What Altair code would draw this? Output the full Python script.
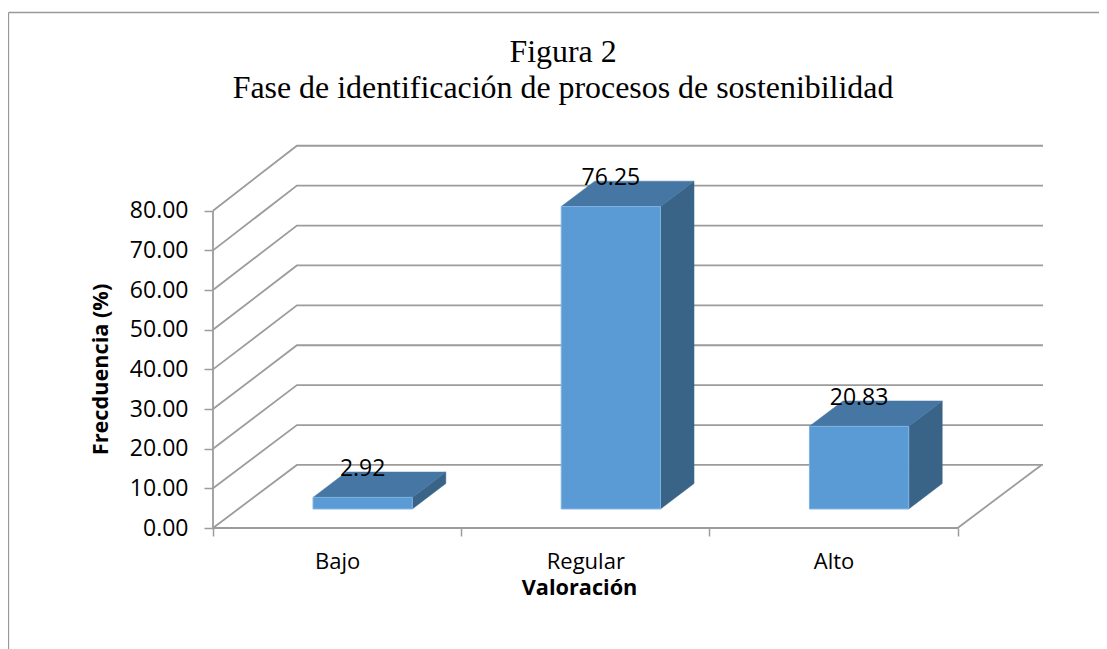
import altair as alt
import pandas as pd

categories = ["Bajo", "Regular", "Alto"]
values = [2.92, 76.25, 20.83]
y_ticks = [0, 10, 20, 30, 40, 50, 60, 70, 80]
title_lines = ["Figura 2", "Fase de identificación de procesos de sostenibilidad"]

# oblique-projection constants, in data units
WALL_DX, WALL_DY = 0.338, 15.9      # depth of the floor / walls
BACK_SCALE = 1.006                  # back wall is drawn very slightly taller than the front
BAR_DX, BAR_DY = 0.135, 6.4         # depth of each bar
BAR_START, BAR_W = 0.403, 0.40      # bar offset within its category
BASE_Y = 4.8                        # height of the bar base above the axis floor
X_MAX, Y_MAX = 3.344, 96.57

GRID = "#9c9c9c"
FRONT, TOP, SIDE = "#5b9bd5", "#4676a3", "#3a6487"
SANS = "Open Sans"

xs = alt.Scale(domain=[0, X_MAX], nice=False, zero=False)
ys = alt.Scale(domain=[0, Y_MAX], nice=False, zero=False)
x_axis = alt.Axis(
    orient="bottom", values=[0, 1, 2, 3], labels=False, domain=False, grid=False,
    ticks=True, tickSize=8, tickColor=GRID, tickWidth=1.5, title=None,
)
y_axis = alt.Axis(
    orient="left", values=y_ticks, format=".2f", domain=False, grid=False, tickSize=9,
    tickColor=GRID, tickWidth=1.5, labelFont=SANS, labelFontSize=23,
    labelColor="#000000", labelPadding=16, title="Frecduencia (%)",
    titleFont=SANS, titleFontSize=21.7, titleFontWeight="bold", titleColor="#000000",
    titleX=-101, titleY=224,
)
X = alt.X("x:Q", scale=xs, axis=x_axis)
Y = alt.Y("y:Q", scale=ys, stack=None, axis=y_axis)

# grid lines on walls
grid_rows = []
for v in y_ticks:
    back = v * BACK_SCALE + WALL_DY
    for i, (gx, gy) in enumerate([(0, v), (WALL_DX, back), (X_MAX, back)]):
        grid_rows.append(dict(g=f"w{v}", i=i, x=gx, y=gy))
for name, pts in {
    "left": [(0, 0), (0, 80)],
    "front": [(0, 0), (3, 0), (3 + WALL_DX, WALL_DY)],
}.items():
    for i, (gx, gy) in enumerate(pts):
        grid_rows.append(dict(g=name, i=i, x=gx, y=gy))
grid = (
    alt.Chart(pd.DataFrame(grid_rows))
    .mark_line(color=GRID, strokeWidth=1.8)
    .encode(x=X, y=Y, detail="g:N", order="i:Q")
)

# bar faces
front_rows, top_rows, side_rows, label_rows = [], [], [], []
for k, (c, v) in enumerate(zip(categories, values)):
    x0 = k + BAR_START
    x1 = x0 + BAR_W
    top = BASE_Y + v
    front_rows.append(dict(c=c, x=x0, x2=x1, y=BASE_Y, y2=top))
    top_rows += [
        dict(c=c, x=x0, y=top, y2=top),
        dict(c=c, x=x0 + BAR_DX, y=top + BAR_DY, y2=top),
        dict(c=c, x=x1, y=top + BAR_DY, y2=top),
        dict(c=c, x=x1 + BAR_DX, y=top + BAR_DY, y2=top + BAR_DY),
    ]
    side_rows += [
        dict(c=c, x=x1, y=BASE_Y, y2=top),
        dict(c=c, x=x1 + BAR_DX, y=BASE_Y + BAR_DY, y2=top + BAR_DY),
    ]
    label_rows.append(dict(x=(x0 + x1) / 2, y=top + BAR_DY, t=f"{v:.2f}"))

front = (
    alt.Chart(pd.DataFrame(front_rows))
    .mark_rect(color=FRONT, stroke="#7fb2e2", strokeWidth=1)
    .encode(x=X, x2="x2:Q", y=Y, y2="y2:Q")
)
tops = (
    alt.Chart(pd.DataFrame(top_rows))
    .mark_area(color=TOP, stroke=TOP, strokeWidth=0.5)
    .encode(x=X, y=Y, y2="y2:Q", detail="c:N")
)
sides = (
    alt.Chart(pd.DataFrame(side_rows))
    .mark_area(color=SIDE, stroke=SIDE, strokeWidth=0.5)
    .encode(x=X, y=Y, y2="y2:Q", detail="c:N")
)
labels = (
    alt.Chart(pd.DataFrame(label_rows))
    .mark_text(font=SANS, fontSize=23, color="#000000", dy=-3, baseline="middle", align="center")
    .encode(x=X, y=Y, text="t:N")
)

inner = alt.layer(grid, sides, tops, front, labels)

# outer frame (only the top and left edges are in view)
frame_top = alt.Chart(pd.DataFrame({"a": [0]})).mark_rule(color="#999999", strokeWidth=1.3).encode(
    x=alt.value(-204.5), x2=alt.value(900), y=alt.value(-132.5)
)
frame_left = alt.Chart(pd.DataFrame({"a": [0]})).mark_rule(color="#999999", strokeWidth=1.3).encode(
    x=alt.value(-204.5), y=alt.value(-132.5), y2=alt.value(510)
)

cat_axis = (
    alt.Chart(pd.DataFrame({"cat": categories}))
    .mark_point(opacity=0)
    .encode(
        x=alt.X(
            "cat:N", sort=categories,
            scale=alt.Scale(domain=categories, range=[0, 744.6], paddingInner=0, paddingOuter=0),
            axis=alt.Axis(
                orient="bottom", ticks=False, domain=False, labelAngle=0, labelFont=SANS,
                labelFontSize=22, labelColor="#000000", labelPadding=23, title="Valoración",
                titleFont=SANS, titleFontSize=21.7, titleFontWeight="bold", titleColor="#000000",
                titleX=366, titleY=49,
            ),
        )
    )
)

chart = (
    alt.layer(frame_top, frame_left, inner, cat_axis)
    .resolve_scale(x="independent")
    .properties(
        width=830,
        height=383,
        padding={"left": 205, "top": 137, "right": 56, "bottom": 121},
        autosize=alt.AutoSizeParams(type="none"),
        title=alt.TitleParams(
            text=title_lines, font="Liberation Serif", fontSize=31.9, fontWeight="normal",
            color="#000000", anchor="middle", frame="group", dx=-65, offset=0, dy=93, lineHeight=35.5,
        ),
    )
    .configure_view(stroke=None)
)

chart.save("out.html", embed_options={"renderer": "svg", "actions": False})
